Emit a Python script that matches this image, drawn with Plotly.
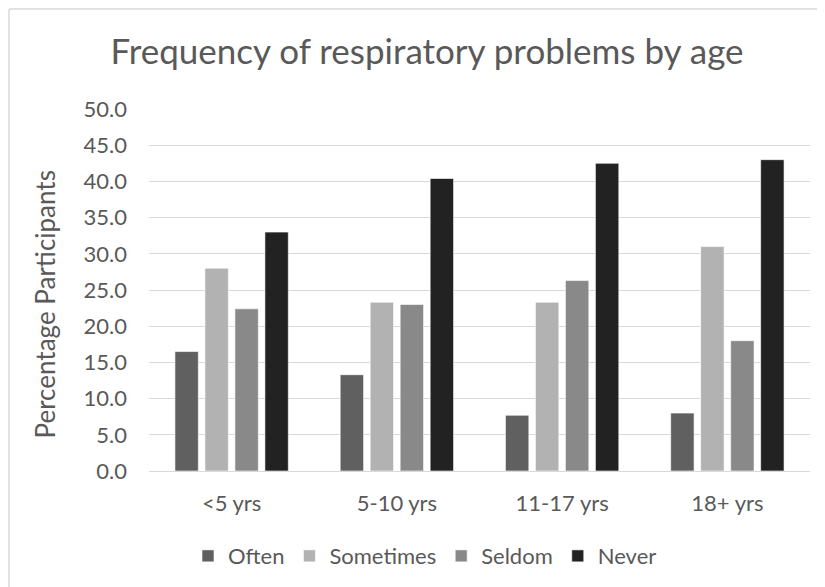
import plotly.graph_objects as go

# ── data ──
AGE_GROUPS = ["<5 yrs", "5-10 yrs", "11-17 yrs", "18+ yrs"]
OFTEN      = [16.5, 13.3, 7.7, 8.0]
SOMETIMES  = [28.0, 23.3, 23.3, 31.0]
SELDOM     = [22.4, 23.0, 26.3, 18.0]
NEVER      = [33.0, 40.4, 42.5, 43.0]
Y_TICKS    = [0, 5, 10, 15, 20, 25, 30, 35, 40, 45, 50]

SERIES = [
    ("Often", OFTEN, "#606060"),
    ("Sometimes", SOMETIMES, "#b2b2b2"),
    ("Seldom", SELDOM, "#898989"),
    ("Never", NEVER, "#222222"),
]

TEXT = "#595959"
GRID = "#d9d9d9"
FONT = "Lato, sans-serif"

# page body adds an 8px offset, so layout is placed 8px up/left
L, T, PW, PH = 141, 101, 661, 362

fig = go.Figure()
for name, vals, color in SERIES:
    fig.add_trace(go.Bar(
        x=AGE_GROUPS, y=vals, name=name,
        marker=dict(color=color, line=dict(color="#ffffff", width=0.6)),
    ))

fig.update_layout(
    width=825, height=587,
    paper_bgcolor="white", plot_bgcolor="white",
    font=dict(family=FONT, color=TEXT, size=22),
    margin=dict(l=L, r=825 - L - PW, t=T, b=587 - T - PH, autoexpand=False),
    barmode="group", bargap=0.274, bargroupgap=0.22,
    title=dict(text="Frequency of respiratory problems by age",
               x=419 / 825, xanchor="center", y=1 - 44 / 587, yanchor="middle",
               yref="container", font=dict(size=35, color=TEXT, family=FONT)),
    xaxis=dict(showgrid=False, showline=False, zeroline=False,
               tickfont=dict(size=22, color=TEXT), ticklabelstandoff=17),
    yaxis=dict(range=[0, 50], tickvals=Y_TICKS, tickformat=".1f",
               showgrid=True, gridcolor=GRID, gridwidth=1.3,
               zeroline=True, zerolinecolor=GRID, zerolinewidth=1.3,
               showline=False, tickfont=dict(size=22, color=TEXT),
               ticklabelstandoff=21),
    legend=dict(orientation="h", x=(417 - L) / PW, xanchor="center",
                y=-0.235, yanchor="middle", font=dict(size=22, color=TEXT),
                itemwidth=30, traceorder="normal"),
    showlegend=True,
)

# y-axis title sits a little below the plot's middle, as in the original
fig.add_annotation(text="Percentage Participants", textangle=-90,
                   xref="paper", yref="paper", x=(37 - L) / PW, y=0.46,
                   xanchor="center", yanchor="middle", showarrow=False,
                   font=dict(size=26, color=TEXT))

# chart-area outline (only top and left edges fall inside the frame)
x_left = (1 - L) / PW
y_top = (T + PH - 1) / PH
fig.add_shape(type="line", xref="paper", yref="paper",
              x0=x_left, x1=1.1, y0=y_top, y1=y_top,
              line=dict(color=GRID, width=1.5))
fig.add_shape(type="line", xref="paper", yref="paper",
              x0=x_left, x1=x_left, y0=y_top, y1=-0.4,
              line=dict(color=GRID, width=1.5))

fig.write_html("out.html")
